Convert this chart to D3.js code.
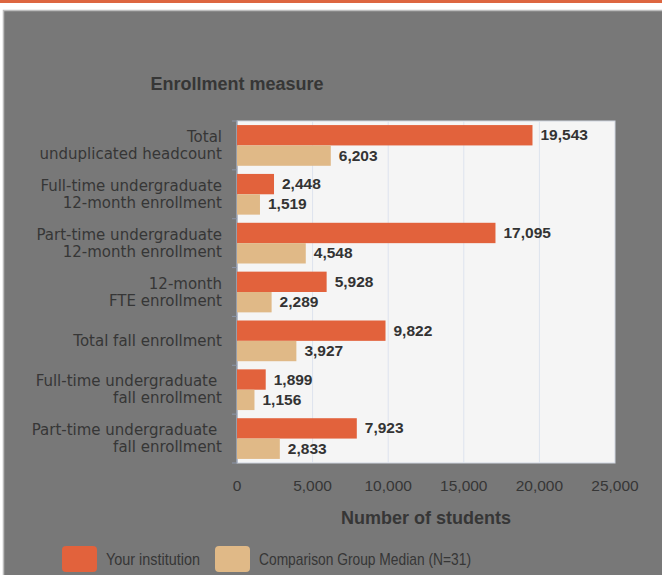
<!DOCTYPE html>
<html>
<head>
<meta charset="utf-8">
<script src="https://cdn.jsdelivr.net/npm/d3@7"></script>
<style>
  body { margin: 0; background: #fff; }
  svg { display: block; }
</style>
</head>
<body>
<div id="chart"></div>
<script>
// Data
const categories = [
    ['Total', 'unduplicated headcount'],
    ['Full-time undergraduate', '12-month enrollment'],
    ['Part-time undergraduate', '12-month enrollment'],
    ['12-month', 'FTE enrollment'],
    ['Total fall enrollment'],
    ['Full-time undergraduate ', 'fall enrollment'],
    ['Part-time undergraduate ', 'fall enrollment']
];
const institutionValues = [19543, 2448, 17095, 5928, 9822, 1899, 7923];
const medianValues = [6203, 1519, 4548, 2289, 3927, 1156, 2833];
const xTicks = [0, 5000, 10000, 15000, 20000, 25000];
const seriesNames = ['Your institution', 'Comparison Group Median (N=31)'];
const seriesColors = ['#e2623c', '#e0b987'];

const width = 662, height = 575;
const plot = { left: 237, right: 615, top: 121, bottom: 463 };
const textColor = '#363636';

const svg = d3.select('#chart').append('svg')
    .attr('width', width)
    .attr('height', height)
    .style('font-family', '"Liberation Sans", Arial, sans-serif');

// top stripe and gray panel
svg.append('rect').attr('x', 0).attr('y', 0).attr('width', width).attr('height', 3).attr('fill', '#dd6640');
svg.append('rect')
    .attr('x', 3.5).attr('y', 10.5)
    .attr('width', width).attr('height', height)
    .attr('fill', '#787878')
    .attr('stroke', '#bdbdbd').attr('stroke-width', 1.5);

const x = d3.scaleLinear().domain([0, 25000]).range([plot.left, plot.right]);
const y = d3.scaleBand().domain(d3.range(categories.length)).range([plot.top, plot.bottom]);
const inner = d3.scaleBand().domain([0, 1]).range([0, y.bandwidth()]).paddingOuter(0.2);

// plot background
svg.append('rect')
    .attr('x', plot.left).attr('y', plot.top)
    .attr('width', plot.right - plot.left).attr('height', plot.bottom - plot.top)
    .attr('fill', '#f5f5f5')
    .attr('stroke', '#cfd5e0');

// gridlines
svg.append('g').selectAll('line')
    .data(xTicks.slice(1, -1))
    .enter().append('line')
    .attr('x1', d => x(d)).attr('x2', d => x(d))
    .attr('y1', plot.top).attr('y2', plot.bottom)
    .attr('stroke', '#dde3ee');

// x axis labels
svg.append('g').selectAll('text')
    .data(xTicks)
    .enter().append('text')
    .attr('x', d => x(d))
    .attr('y', 491)
    .attr('text-anchor', 'middle')
    .attr('font-size', 15.5)
    .attr('fill', textColor)
    .text(d => d3.format(',')(d));

// y axis line and ticks
svg.append('line')
    .attr('x1', plot.left).attr('x2', plot.left)
    .attr('y1', plot.top).attr('y2', plot.bottom)
    .attr('stroke', '#8a94a8');
svg.append('g').selectAll('line')
    .data(d3.range(categories.length + 1))
    .enter().append('line')
    .attr('x1', plot.left - 5).attr('x2', plot.left)
    .attr('y1', d => plot.top + d * y.step()).attr('y2', d => plot.top + d * y.step())
    .attr('stroke', '#8a94a8');

// category labels
const catLabels = svg.append('g').selectAll('text')
    .data(categories)
    .enter().append('text')
    .attr('text-anchor', 'end')
    .attr('font-size', 15)
    .attr('fill', textColor)
    .style('font-family', '"DejaVu Sans", sans-serif')
    .attr('transform', (d, i) => `translate(222,${y(i) + y.bandwidth() / 2})`);
catLabels.each(function(lines) {
    const t = d3.select(this);
    lines.forEach((line, j) => {
        t.append('tspan')
            .attr('x', 0)
            .attr('y', (j - (lines.length - 1) / 2) * 17 + 5)
            .text(line);
    });
});

// bars
[institutionValues, medianValues].forEach((values, s) => {
    const g = svg.append('g');
    g.selectAll('rect')
        .data(values)
        .enter().append('rect')
        .attr('x', plot.left)
        .attr('y', (d, i) => y(i) + inner(s))
        .attr('width', d => x(d) - plot.left)
        .attr('height', inner.bandwidth())
        .attr('fill', seriesColors[s]);
    g.selectAll('text')
        .data(values)
        .enter().append('text')
        .attr('x', d => x(d) + 8)
        .attr('y', (d, i) => y(i) + inner(s) + inner.bandwidth() / 2 + 5)
        .attr('font-size', 15.5)
        .attr('font-weight', 'bold')
        .attr('fill', '#333')
        .text(d => d3.format(',')(d));
});

// titles
svg.append('text')
    .attr('x', plot.left).attr('y', 90)
    .attr('text-anchor', 'middle')
    .attr('font-size', 18).attr('font-weight', 'bold')
    .attr('fill', textColor)
    .text('Enrollment measure');
svg.append('text')
    .attr('x', (plot.left + plot.right) / 2).attr('y', 524)
    .attr('text-anchor', 'middle')
    .attr('font-size', 18).attr('font-weight', 'bold')
    .attr('fill', textColor)
    .text('Number of students');

// legend
const legendX = [62, 215];
const legendTextWidth = [94, 212];
const legend = svg.append('g').selectAll('g')
    .data(seriesNames)
    .enter().append('g')
    .attr('transform', (d, i) => `translate(${legendX[i]},546)`);
legend.append('rect')
    .attr('width', 35).attr('height', 26).attr('rx', 4)
    .attr('fill', (d, i) => seriesColors[i]);
legend.append('text')
    .attr('x', 44).attr('y', 19)
    .attr('font-size', 17)
    .attr('fill', textColor)
    .attr('textLength', (d, i) => legendTextWidth[i])
    .attr('lengthAdjust', 'spacingAndGlyphs')
    .text(d => d);
</script>
</body>
</html>
